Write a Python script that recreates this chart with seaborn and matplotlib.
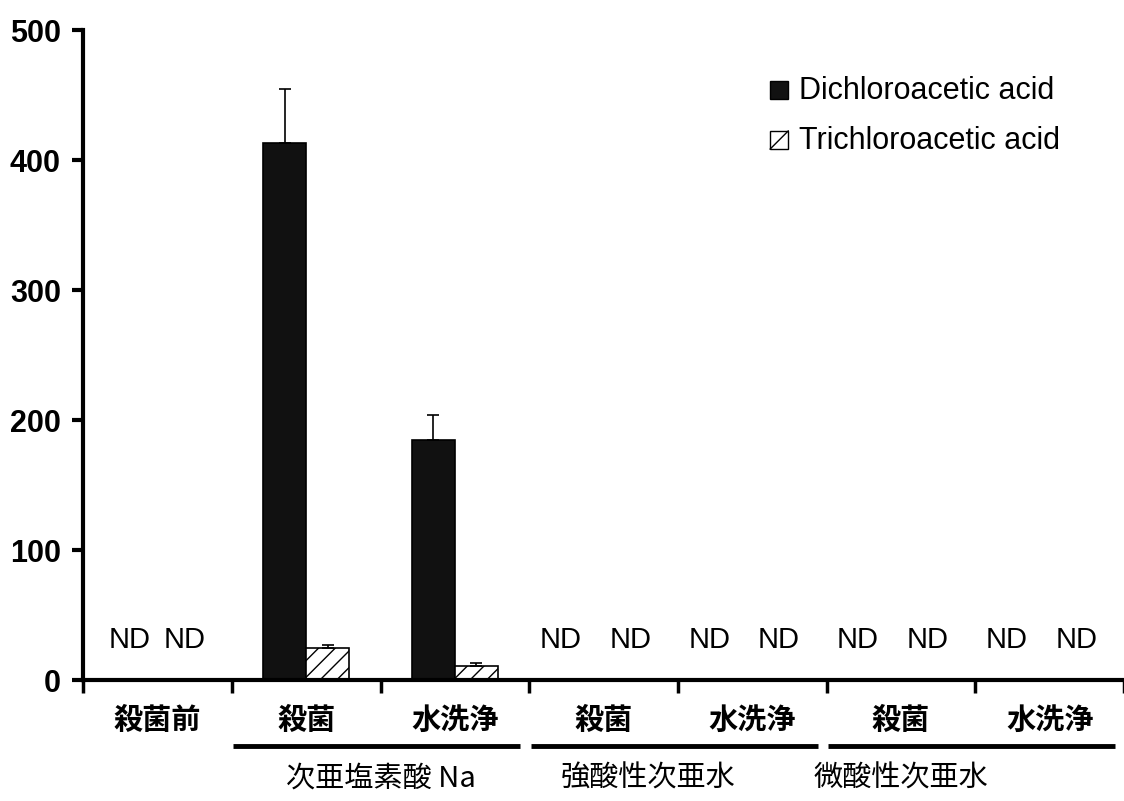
import matplotlib
matplotlib.use('Agg')
import matplotlib.pyplot as plt
import seaborn as sns
import pandas as pd
import numpy as np
from matplotlib.patches import Patch, Rectangle
from matplotlib.lines import Line2D
from matplotlib.legend_handler import HandlerBase

sns.set_style('white')
plt.rcParams['font.family'] = ['Liberation Sans', 'Noto Sans CJK JP', 'DejaVu Sans']
plt.rcParams['hatch.linewidth'] = 1.0
plt.rcParams['text.color'] = 'black'
plt.rcParams['xtick.color'] = 'black'
plt.rcParams['ytick.color'] = 'black'
plt.rcParams['axes.edgecolor'] = 'black'

# data
conditions = ['殺菌前', '殺菌', '水洗浄', '殺菌', '水洗浄', '殺菌', '水洗浄']
groups = ['次亜塩素酸 Na', '強酸性次亜水', '微酸性次亜水']
group_span = [(1, 2), (3, 4), (5, 6)]
compounds = ['Dichloroacetic acid', 'Trichloroacetic acid']
dca = [0, 413, 185, 0, 0, 0, 0]
dca_err = [0, 42, 19, 0, 0, 0, 0]
tca = [0, 25, 11, 0, 0, 0, 0]
tca_err = [0, 2, 2, 0, 0, 0, 0]
nd_groups = [0, 3, 4, 5, 6]

df = pd.DataFrame({
    'pos': list(range(7)) * 2,
    'compound': [compounds[0]] * 7 + [compounds[1]] * 7,
    'value': dca + tca,
})


class BoxHandler(HandlerBase):
    # square legend key, optional single diagonal like the hatched bars
    def create_artists(self, legend, orig, xd, yd, w, h, fontsize, trans):
        s = min(w, h)
        x0, y0 = xd + (w - s) / 2, yd + (h - s) / 2
        r = Rectangle((x0, y0), s, s, facecolor=orig.get_facecolor(),
                      edgecolor='black', lw=1.0, transform=trans)
        out = [r]
        if orig.get_hatch():
            out.append(Line2D([x0, x0 + s], [y0, y0 + s], color='black',
                              lw=1.0, transform=trans))
        return out


fig, ax = plt.subplots(figsize=(11.24, 8.01), dpi=100)
fig.subplots_adjust(left=0.074, right=1.0, bottom=0.151, top=0.9625)

sns.barplot(data=df, x='pos', y='value', hue='compound', order=list(range(7)),
            hue_order=compounds, palette=['#111111', 'white'], width=0.58,
            edgecolor='black', linewidth=1.2, errorbar=None, ax=ax, legend=False)

# hatch the trichloro bars, add one-sided error bars
n = 7
for k, p in enumerate(ax.patches[:2 * n]):
    comp = k // n
    i = k % n
    if comp == 1:
        p.set_hatch('//')
    err = [dca_err, tca_err][comp][i]
    val = [dca, tca][comp][i]
    if err > 0:
        xc = p.get_x() + p.get_width() / 2
        ax.errorbar(xc, val, yerr=[[0], [err]], fmt='none', ecolor='black',
                    elinewidth=1.2, capsize=4, capthick=1.2)

# ND labels
for g in nd_groups:
    offs = (-0.185, 0.185) if g == 0 else (-0.29, 0.18)
    for o in offs:
        ax.text(g + o, 31, 'ND', ha='center', va='center', fontsize=21)

ax.set_xlim(-0.5, 6.5)
ax.set_ylim(0, 500)
ax.set_yticks(range(0, 501, 100))
ax.set_xticks(range(7))
ax.set_xticklabels(conditions, fontsize=21, fontweight='bold', family='Noto Sans CJK JP')
ax.set_xticks(np.arange(-0.5, 7, 1), minor=True)
ax.tick_params(axis='x', which='major', length=0, pad=18)
ax.tick_params(axis='x', which='minor', length=9, width=2.5, direction='out', bottom=True)
ax.tick_params(axis='y', length=8, width=3, direction='out', left=True, pad=8)
for lab in ax.get_yticklabels():
    lab.set_fontweight('bold')
    lab.set_fontsize(22)
ax.set_xlabel('')
ax.set_ylabel('')

for s in ['top', 'right']:
    ax.spines[s].set_visible(False)
ax.spines['left'].set_linewidth(3)
ax.spines['bottom'].set_linewidth(3)

# group underlines and labels
tr = ax.get_xaxis_transform()
label_x = [1.5, 3.3, 5.0]
for (a, b), name, lx in zip(group_span, groups, label_x):
    ax.plot([a - 0.49, b + 0.44], [-0.102, -0.102], color='black', lw=3.5,
            transform=tr, clip_on=False, solid_capstyle='butt')
    ax.text(lx, -0.151, name, ha='center', va='center', fontsize=21,
            family='Noto Sans CJK JP', transform=tr)

handles = [Patch(facecolor='#111111', edgecolor='black'),
           Patch(facecolor='white', edgecolor='black', hatch='/')]
ax.legend(handles, compounds, loc='upper right', bbox_to_anchor=(0.965, 0.972),
          frameon=False, fontsize=22, handlelength=0.6, handleheight=0.6,
          handletextpad=0.35, labelspacing=0.65,
          handler_map={Patch: BoxHandler()})

fig.savefig('out.png', dpi=100)
